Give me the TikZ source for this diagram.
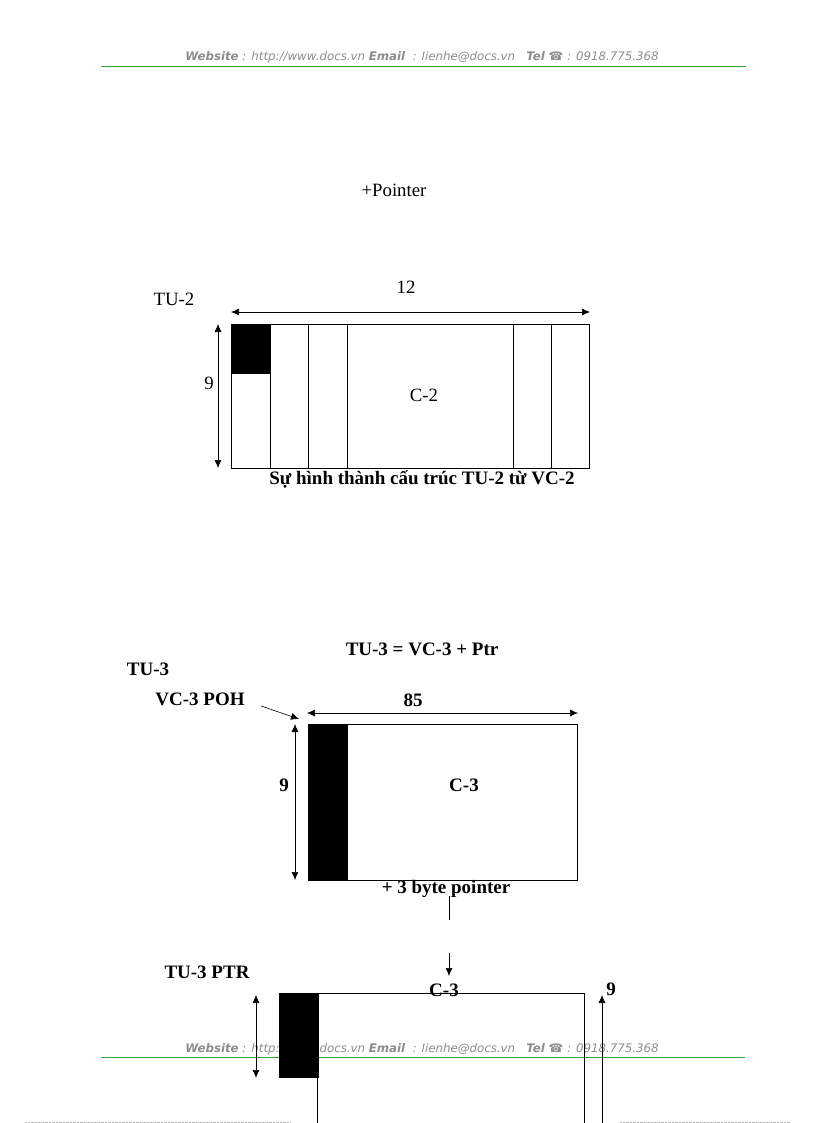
\documentclass[tikz,border=0pt]{standalone}
\usepackage{fontspec}
\setmainfont{Liberation Serif}
\newfontfamily\webfont{DejaVu Sans}
\usepackage{tikz}
\usetikzlibrary{arrows.meta}
\tikzstyle{lbl} = [inner sep=0pt, font={\fontsize{18.8}{19}\selectfont}]
\tikzstyle{blbl} = [inner sep=0pt, font={\fontsize{19}{19}\selectfont\bfseries}]
\tikzstyle{web} = [inner sep=0pt, text=black!45, font={\webfont\fontsize{11.8}{12}\selectfont\itshape}]
\tikzstyle{box} = [draw=black, inner sep=0pt, anchor=north west]
\tikzstyle{poh} = [box, fill=black]
\tikzstyle{dim} = [{Latex[length=8pt,width=7pt]}-{Latex[length=8pt,width=7pt]}, semithick]
\tikzstyle{sgl} = [-{Latex[length=8pt,width=7pt]}, semithick]
\tikzstyle{rule} = [draw=green!55!black!80, line width=1pt]
\newcommand{\webline}{\textbf{Website} : http://www.docs.vn \textbf{Email} \ : lienhe@docs.vn \ \ \textbf{Tel} {\char"260E} : 0918.775.368}

\begin{document}
\begin{tikzpicture}[x=1pt,y=-1pt]
  \useasboundingbox (0,0) rectangle (816,1123);
  % header and footer
  \node[web](headtext) at (422,57){\webline};
  \coordinate (headl) at (101,66.5);
  \coordinate (headr) at (746,66.5);
  \draw[rule](headl)--(headr);
  \node[web](foottext) at (422,1049){\webline};
  \coordinate (footl) at (101,1057.5);
  \coordinate (footr) at (745,1057.5);
  \draw[rule](footl)--(footr);
  \coordinate (dotal) at (25,1122);
  \coordinate (dotar) at (290,1122);
  \coordinate (dotbl) at (620,1122);
  \coordinate (dotbr) at (790,1122);
  \draw[black!30,densely dotted](dotal)--(dotar);
  \draw[black!30,densely dotted](dotbl)--(dotbr);
  \node[lbl](pointer) at (394,190){+Pointer};
  % TU-2
  \node[lbl](tu2) at (174,299){TU-2};
  \node[lbl](twelve) at (406,287){12};
  \node[lbl](nine2) at (209,383){9};
  \node[box,minimum width=358.5pt,minimum height=144pt](frame2) at (230.5,324){};
  \node[poh,minimum width=39pt,minimum height=49pt](poh2) at (230.5,324){};
  \node[box,minimum width=39pt,minimum height=144pt](col1) at (230.5,324){};
  \node[box,minimum width=38pt,minimum height=144pt](col2) at (269.5,324){};
  \node[box,minimum width=39pt,minimum height=144pt](col3) at (307.5,324){};
  \node[box,minimum width=38pt,minimum height=144pt](col4) at (512.5,324){};
  \node[lbl](c2) at (424,395){C-2};
  \node[blbl](caption2) at (422,479){Sự hình thành cấu trúc TU-2 từ VC-2};
  \coordinate (t2l) at (231,312);
  \coordinate (t2r) at (590,312);
  \coordinate (n2t) at (218,324);
  \coordinate (n2b) at (218,468);
  \draw[dim](t2l)--(t2r);
  \draw[dim](n2t)--(n2b);
  % TU-3
  \node[blbl](title3) at (422,649){TU-3 = VC-3 + Ptr};
  \node[blbl](tu3) at (148,669){TU-3};
  \node[blbl](vcpoh) at (200,699){VC-3 POH};
  \node[blbl](eightyfive) at (413,700){85};
  \node[blbl](nine3) at (284,785){9};
  \node[box,minimum width=269.5pt,minimum height=156pt](frame3) at (307.5,724){};
  \node[poh,minimum width=39pt,minimum height=156pt](poh3) at (307.5,724){};
  \node[blbl](c3) at (464,785){C-3};
  \node[blbl](plus3) at (446,889){+ 3 byte pointer};
  \coordinate (pohs) at (261,706);
  \coordinate (pohe) at (299,719);
  \draw[sgl](pohs)--(pohe);
  \coordinate (t3l) at (307,713);
  \coordinate (t3r) at (578,713);
  \coordinate (n3t) at (295,724);
  \coordinate (n3b) at (295,880);
  \draw[dim](t3l)--(t3r);
  \draw[dim](n3t)--(n3b);
  \coordinate (gapa) at (449,896);
  \coordinate (gapb) at (449,920);
  \coordinate (gapc) at (449,953);
  \coordinate (gapd) at (449,976);
  \draw(gapa)--(gapb);
  \draw[sgl](gapc)--(gapd);
  % TU-3 PTR
  \node[blbl](tu3ptr) at (207,972){TU-3 PTR};
  \node[poh,minimum width=39pt,minimum height=84pt](ptr) at (278.5,993){};
  \coordinate (lowl) at (317.5,1123);
  \coordinate (topl) at (317.5,993);
  \coordinate (topr) at (584.5,993);
  \coordinate (lowr) at (584.5,1123);
  \draw(lowl)--(topl)--(topr)--(lowr);
  \node[blbl](c3low) at (444,990){C-3};
  \node[blbl](nine4) at (611,989){9};
  \coordinate (n4t) at (256,995);
  \coordinate (n4b) at (256,1078);
  \draw[dim](n4t)--(n4b);
  \coordinate (upb) at (602,1123);
  \coordinate (upt) at (602,995);
  \draw[sgl](upb)--(upt);
\end{tikzpicture}
\end{document}
